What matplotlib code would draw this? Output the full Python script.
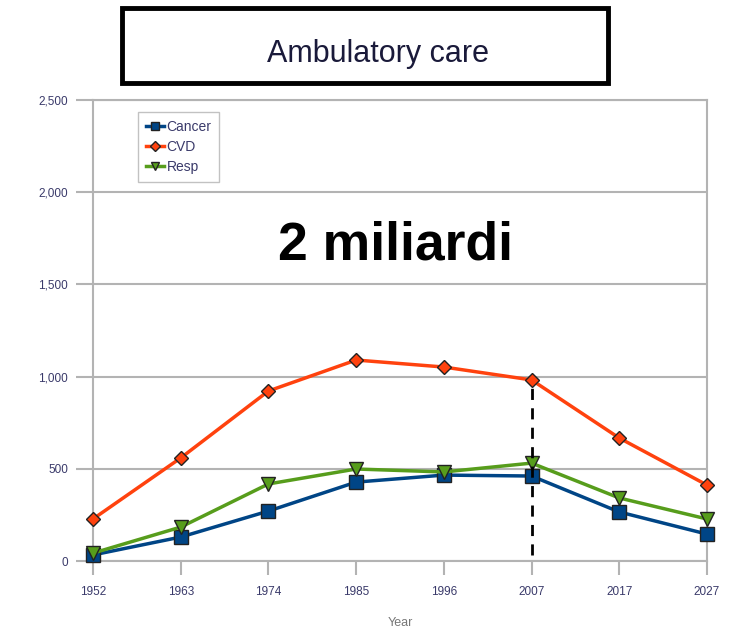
import matplotlib.pyplot as plt
from matplotlib.patches import Rectangle
from matplotlib.lines import Line2D

years = ['1952', '1963', '1974', '1985', '1996', '2007', '2017', '2027']
cancer = [33, 130, 271, 428, 466, 461, 266, 146]
cvd = [228, 559, 922, 1090, 1052, 982, 667, 412]
resp = [43, 184, 418, 499, 483, 531, 342, 228]
y_ticks = [0, 500, 1000, 1500, 2000, 2500]
marker_year = '2007'

plt.rcParams['font.family'] = ['Liberation Sans', 'DejaVu Sans']
label_col = '#3a3a6a'
grid_col = '#b3b3b3'

fig = plt.figure(figsize=(7.34, 6.33), dpi=100)
ax = fig.add_axes([0.1267, 0.1137, 0.8365, 0.7283])

x = list(range(len(years)))
series = [
    ('Cancer', cancer, '#004586', 's', 10.5),
    ('CVD', cvd, '#ff420e', 'D', 7),
    ('Resp', resp, '#579d1c', 'v', 10),
]
for name, vals, col, mk, ms in series:
    ax.plot(x, vals, color=col, lw=2.5, marker=mk, ms=ms,
            markerfacecolor=col, markeredgecolor='#222222', markeredgewidth=1.0,
            clip_on=False, zorder=3)

# dashed marker line at the current year
i = years.index(marker_year)
ax.plot([i, i], [30, cvd[i]], color='black', lw=2, ls=(0, (4, 3)), zorder=4)

ax.set_xlim(0, len(years) - 1)
ax.set_ylim(0, 2500)
ax.set_yticks(y_ticks)
ax.set_yticklabels([f'{v:,}' for v in y_ticks])
ax.set_xticks(x)
ax.set_xticklabels(years)
ax.yaxis.grid(True, color=grid_col, lw=1.5)
ax.set_axisbelow(True)
for s in ax.spines.values():
    s.set_color(grid_col)
    s.set_linewidth(1.5)
ax.tick_params(axis='y', length=12, width=1.5, color=grid_col, labelsize=8.5,
               labelcolor=label_col, pad=6)
ax.tick_params(axis='x', length=10, width=1.5, color=grid_col, labelsize=8.5,
               labelcolor=label_col, pad=8)
ax.set_xlabel('Year', fontsize=9, color='#777777', labelpad=14)

handles = [Line2D([], [], color=c, lw=2.5, marker=m, ms=5.5, markerfacecolor=c,
                  markeredgecolor='#222222') for _, _, c, m, _ in series]
leg = fig.legend(handles, [s[0] for s in series], loc='upper left',
                 bbox_to_anchor=(138 / 734, 1 - 112 / 633), fontsize=10,
                 frameon=True, fancybox=False, edgecolor=grid_col,
                 handlelength=1.3, handletextpad=0.2, borderpad=0.55,
                 labelspacing=0.45, borderaxespad=0)
for t in leg.get_texts():
    t.set_color(label_col)

# title box
fig.patches.append(Rectangle((122 / 734, 1 - 83 / 633), 486 / 734, 75 / 633,
                             transform=fig.transFigure, fill=False,
                             edgecolor='black', lw=3.5))
fig.text(378 / 734, 1 - 54 / 633, 'Ambulatory care', fontsize=22,
         color='#1a1a3a', ha='center', va='center')

ax.text(395 / 734, 1 - 245 / 633, '2 miliardi', transform=fig.transFigure,
        fontsize=38.5, fontweight='bold', color='black', ha='center', va='center')

fig.savefig('out.png', dpi=100)
